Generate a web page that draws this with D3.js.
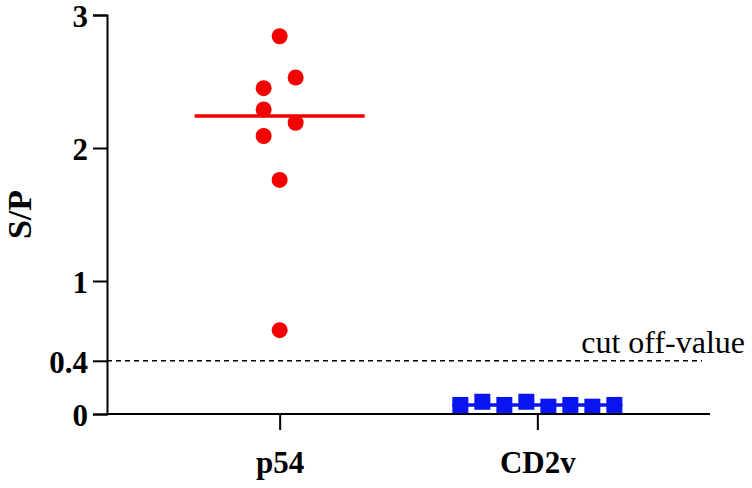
<!DOCTYPE html>
<html>
<head>
<meta charset="utf-8">
<script src="https://cdn.jsdelivr.net/npm/d3@7"></script>
<style>
  body { margin: 0; background: #fff; }
  svg { display: block; }
</style>
</head>
<body>
<div id="chart"></div>
<script>
const WIDTH = 752;
const HEIGHT = 488;
const MARGIN = { left: 107, top: 15, right: 42, bottom: 74 };

// data
const groups = ["p54", "CD2v"];
const p54Values = [2.84, 2.53, 2.45, 2.29, 2.19, 2.09, 1.76, 0.63];
const p54Slots = [0, 1, -1, -1, 1, -1, 0, 0];
const cd2vValues = [0.068, 0.092, 0.068, 0.092, 0.055, 0.068, 0.055, 0.068];
const cd2vSlots = [-3.5, -2.5, -1.5, -0.5, 0.5, 1.5, 2.5, 3.5];
const yTicks = [0, 0.4, 1, 2, 3];
const cutOff = 0.4;

let svg = d3.select("#chart").append("svg").attr("width", WIDTH).attr("height", HEIGHT);

let xScale = d3.scalePoint()
  .domain(groups)
  .range([MARGIN.left, WIDTH - MARGIN.right])
  .padding(0.67);

let yScale = d3.scaleLinear()
  .domain([0, 3])
  .range([HEIGHT - MARGIN.bottom, MARGIN.top]);

const median = arr => d3.median(arr);

// cut-off line
svg.append("line")
  .attr("x1", MARGIN.left).attr("x2", 702)
  .attr("y1", yScale(cutOff)).attr("y2", yScale(cutOff))
  .attr("stroke", "#000").attr("stroke-width", 1.5)
  .attr("stroke-dasharray", "5,4");

svg.append("text")
  .attr("x", 745).attr("y", yScale(cutOff) - 8)
  .attr("text-anchor", "end")
  .style("font-family", "'Liberation Serif', 'Times New Roman', serif")
  .style("font-size", "32px")
  .text("cut off-value");

// p54 dots
let p54Data = p54Values.map((v, i) => ({ v, s: p54Slots[i] }));
svg.append("g").selectAll("circle")
  .data(p54Data).enter().append("circle")
  .attr("cx", d => xScale("p54") + d.s * 16)
  .attr("cy", d => yScale(d.v))
  .attr("r", 8)
  .attr("fill", "#f50000");

svg.append("line")
  .attr("x1", xScale("p54") - 85).attr("x2", xScale("p54") + 85)
  .attr("y1", yScale(median(p54Values))).attr("y2", yScale(median(p54Values)))
  .attr("stroke", "#f50000").attr("stroke-width", 3.5);

// CD2v squares
let cd2vData = cd2vValues.map((v, i) => ({ v, s: cd2vSlots[i] }));
svg.append("line")
  .attr("x1", xScale("CD2v") - 85).attr("x2", xScale("CD2v") + 85)
  .attr("y1", yScale(median(cd2vValues))).attr("y2", yScale(median(cd2vValues)))
  .attr("stroke", "#0a14f0").attr("stroke-width", 3.5);

svg.append("g").selectAll("rect")
  .data(cd2vData).enter().append("rect")
  .attr("x", d => xScale("CD2v") + d.s * 22 - 8)
  .attr("y", d => yScale(d.v) - 8)
  .attr("width", 16).attr("height", 16)
  .attr("fill", "#0a14f0");

// axes
let yAxis = d3.axisLeft(yScale).tickValues(yTicks).tickFormat(d3.format("~g")).tickSize(14).tickPadding(5);
let xAxis = d3.axisBottom(xScale).tickSize(16).tickPadding(21);

let gy = svg.append("g")
  .attr("transform", `translate(${MARGIN.left},0)`)
  .call(yAxis);
let gx = svg.append("g")
  .attr("transform", `translate(0,${HEIGHT - MARGIN.bottom})`)
  .call(xAxis);

gx.select(".domain").attr("d", `M${MARGIN.left},0H${710}`);

[gx, gy].forEach(g => {
  g.selectAll(".domain, .tick line").attr("stroke", "#000").attr("stroke-width", 2);
  g.selectAll("text")
    .attr("fill", "#000")
    .style("font-family", "'Liberation Serif', 'Times New Roman', serif")
    .style("font-weight", "bold")
    .style("font-size", "31px");
});
gy.selectAll("text").attr("dy", "0.37em");

svg.append("text")
  .attr("transform", "rotate(-90)")
  .attr("x", -(yScale(0) + yScale(3)) / 2)
  .attr("y", 31)
  .attr("text-anchor", "middle")
  .style("font-family", "'Liberation Serif', 'Times New Roman', serif")
  .style("font-weight", "bold")
  .style("font-size", "34px")
  .text("S/P");
</script>
</body>
</html>
